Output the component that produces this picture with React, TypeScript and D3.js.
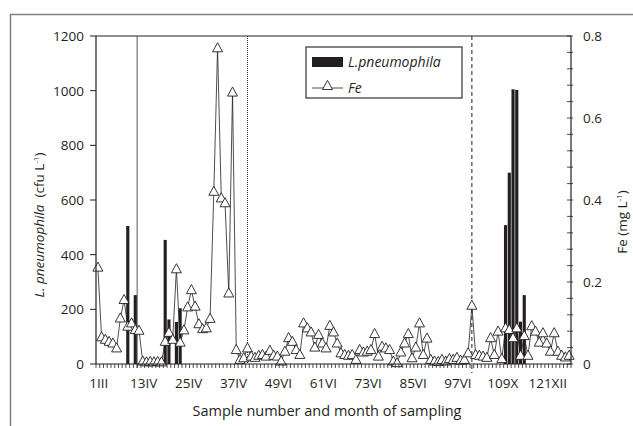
import { useRef, useEffect } from "react";
import { select, scaleLinear, line, range } from "d3";

// samples 1..127, Fe in mg/L
const sampleCount = 127;
const feValues = [
  0.235, 0.065, 0.059, 0.054, 0.05, 0.038, 0.111, 0.156, 0.091, 0.099,
  0.083, 0.081, 0.006, 0.004, 0.005, 0.004, 0.005, 0.004, 0.054, 0.076,
  0.059, 0.231, 0.052, 0.082, 0.138, 0.18, 0.14, 0.097, 0.085, 0.087,
  0.11, 0.42, 0.77, 0.404, 0.392, 0.172, 0.662, 0.034, 0.01, 0.014,
  0.038, 0.018, 0.015, 0.02, 0.022, 0.018, 0.032, 0.02, 0.018, 0.006,
  0.03, 0.063, 0.054, 0.034, 0.022, 0.099, 0.087, 0.077, 0.04, 0.071,
  0.05, 0.038, 0.093, 0.077, 0.05, 0.026, 0.022, 0.02, 0.022, 0.01,
  0.034, 0.028, 0.03, 0.034, 0.073, 0.018, 0.042, 0.038, 0.034, 0.006,
  0.002, 0.028, 0.05, 0.073, 0.014, 0.04, 0.099, 0.022, 0.062, 0.01,
  0.006, 0.005, 0.01, 0.006, 0.012, 0.01, 0.015, 0.008, 0.01, 0.026,
  0.142, 0.022, 0.02, 0.018, 0.015, 0.063, 0.022, 0.079, 0.012, 0.087,
  0.083, 0.063, 0.087, 0.02, 0.068, 0.02, 0.092, 0.079, 0.052, 0.075,
  0.05, 0.03, 0.075, 0.03, 0.02, 0.016, 0.02,
];

// L. pneumophila counts (cfu/L), only samples with a bar
const barSamples = [9, 11, 19, 20, 22, 23, 110, 111, 112, 113, 114, 115];
const barCounts = [505, 252, 454, 163, 154, 204, 508, 700, 1005, 1003, 155, 252];

const leftTicks = [0, 200, 400, 600, 800, 1000, 1200];
const rightTicks = [0, 0.2, 0.4, 0.6, 0.8];
const labelSamples = [1, 13, 25, 37, 49, 61, 73, 85, 97, 109, 121];
const monthLabels = ["1III", "13IV", "25IV", "37IV", "49VI", "61VI", "73VI", "85VI", "97VI", "109X", "121XII"];
const dividerSamples = [11.5, 41, 101];

const App = () => {
  const svgRef = useRef(null);

  useEffect(() => {
    const margin = { left: 96, right: 62, top: 36, bottom: 62 };
    const width = 633;
    const height = 426;
    const x0 = margin.left;
    const x1 = width - margin.right;
    const y0 = height - margin.bottom;
    const y1 = margin.top;
    const font = "'Open Sans', sans-serif";
    const ink = "#231f20";

    const x = scaleLinear().domain([0.5, sampleCount + 0.5]).range([x0, x1]);
    const yLeft = scaleLinear().domain([0, 1200]).range([y0, y1]);
    const yRight = scaleLinear().domain([0, 0.8]).range([y0, y1]);
    const step = x(2) - x(1);

    const svg = select(svgRef.current);
    svg.selectAll("*").remove();

    // outer frame
    svg
      .append("rect")
      .attr("x", 10.5)
      .attr("y", 14.5)
      .attr("width", 700)
      .attr("height", 500)
      .attr("fill", "none")
      .attr("stroke", "#808080")
      .attr("stroke-width", 1.5);

    // plot box top line
    svg
      .append("line")
      .attr("x1", x0)
      .attr("x2", x1)
      .attr("y1", y1)
      .attr("y2", y1)
      .attr("stroke", ink)
      .attr("stroke-width", 1);

    // dividers
    const dividerStyles = [
      { dash: null, bottom: y0 + 4, color: "#555" },
      { dash: "1,1", bottom: y0, color: "#333" },
      { dash: "4,3", bottom: y0 + 9, color: ink },
    ];
    dividerSamples.forEach((s, i) => {
      const st = dividerStyles[i];
      const ln = svg
        .append("line")
        .attr("x1", x(s))
        .attr("x2", x(s))
        .attr("y1", y1)
        .attr("y2", st.bottom)
        .attr("stroke", st.color)
        .attr("stroke-width", 1);
      if (st.dash) ln.attr("stroke-dasharray", st.dash);
    });

    // bars
    svg
      .append("g")
      .selectAll("rect")
      .data(barSamples)
      .join("rect")
      .attr("x", (d) => x(d) - (step - 0.6) / 2)
      .attr("width", step - 0.6)
      .attr("y", (d, i) => yLeft(barCounts[i]))
      .attr("height", (d, i) => y0 - yLeft(barCounts[i]))
      .attr("fill", ink);

    // Fe line
    const feLine = line<number>()
      .x((d, i) => x(i + 1))
      .y((d) => yRight(d));
    svg
      .append("path")
      .datum(feValues)
      .attr("d", feLine)
      .attr("fill", "none")
      .attr("stroke", ink)
      .attr("stroke-width", 0.8);

    const tri = "M0,-5.6L5,3.5L-5,3.5Z";
    svg
      .append("g")
      .selectAll("path")
      .data(feValues)
      .join("path")
      .attr("d", tri)
      .attr("transform", (d, i) => `translate(${x(i + 1)},${yRight(d)})`)
      .attr("fill", "#fff")
      .attr("stroke", ink)
      .attr("stroke-width", 0.9);

    // x axis
    const xAxis = svg.append("g");
    xAxis
      .append("line")
      .attr("x1", x0)
      .attr("x2", x1)
      .attr("y1", y0)
      .attr("y2", y0)
      .attr("stroke", ink)
      .attr("stroke-width", 1.2);
    xAxis
      .selectAll("line.tick")
      .data(range(0, sampleCount + 1))
      .join("line")
      .attr("class", "tick")
      .attr("x1", (d) => x(d + 0.5))
      .attr("x2", (d) => x(d + 0.5))
      .attr("y1", y0)
      .attr("y2", y0 + 4)
      .attr("stroke", ink)
      .attr("stroke-width", 0.8);
    xAxis
      .selectAll("text")
      .data(labelSamples)
      .join("text")
      .attr("x", (d) => x(d) + 1)
      .attr("y", y0 + 24)
      .attr("text-anchor", "middle")
      .attr("font-family", font)
      .attr("font-size", 13.5)
      .attr("fill", ink)
      .text((d, i) => monthLabels[i]);

    // left axis
    const leftAxis = svg.append("g");
    leftAxis
      .append("line")
      .attr("x1", x0)
      .attr("x2", x0)
      .attr("y1", y1)
      .attr("y2", y0)
      .attr("stroke", ink)
      .attr("stroke-width", 1.2);
    leftAxis
      .selectAll("line.tick")
      .data(leftTicks)
      .join("line")
      .attr("class", "tick")
      .attr("x1", x0 - 6)
      .attr("x2", x0)
      .attr("y1", (d) => yLeft(d))
      .attr("y2", (d) => yLeft(d))
      .attr("stroke", ink);
    leftAxis
      .selectAll("text")
      .data(leftTicks)
      .join("text")
      .attr("x", x0 - 12)
      .attr("y", (d) => yLeft(d) + 5)
      .attr("text-anchor", "end")
      .attr("font-family", font)
      .attr("font-size", 13.5)
      .attr("fill", ink)
      .text((d) => d);

    // right axis
    const rightAxis = svg.append("g");
    rightAxis
      .append("line")
      .attr("x1", x1)
      .attr("x2", x1)
      .attr("y1", y1)
      .attr("y2", y0)
      .attr("stroke", ink)
      .attr("stroke-width", 1.2);
    rightAxis
      .selectAll("line.tick")
      .data(range(0, 21))
      .join("line")
      .attr("class", "tick")
      .attr("x1", x1 - 4)
      .attr("x2", x1 + 2)
      .attr("y1", (d) => yRight(d * 0.04))
      .attr("y2", (d) => yRight(d * 0.04))
      .attr("stroke", ink)
      .attr("stroke-width", 0.8);
    rightAxis
      .selectAll("text")
      .data(rightTicks)
      .join("text")
      .attr("x", x1 + 12)
      .attr("y", (d) => yRight(d) + 5)
      .attr("font-family", font)
      .attr("font-size", 13.5)
      .attr("fill", ink)
      .text((d) => d);

    // axis titles
    svg
      .append("text")
      .attr("x", 327)
      .attr("y", 416)
      .attr("text-anchor", "middle")
      .attr("font-family", font)
      .attr("font-size", 14.5)
      .attr("fill", ink)
      .text("Sample number and month of sampling");

    const leftTitle = svg
      .append("text")
      .attr("transform", "translate(44,225) rotate(-90)")
      .attr("text-anchor", "middle")
      .attr("font-family", font)
      .attr("font-size", 13.5)
      .attr("fill", ink);
    leftTitle.append("tspan").attr("font-style", "italic").text("L. pneumophila");
    leftTitle.append("tspan").text("\u00a0 (cfu L");
    leftTitle.append("tspan").attr("dy", -5).attr("font-size", 8).text("-1");
    leftTitle.append("tspan").attr("dy", 5).text(")");

    const rightTitle = svg
      .append("text")
      .attr("transform", "translate(627,222) rotate(-90)")
      .attr("text-anchor", "middle")
      .attr("font-family", font)
      .attr("font-size", 13.5)
      .attr("fill", ink);
    rightTitle.append("tspan").text("Fe (mg L");
    rightTitle.append("tspan").attr("dy", -5).attr("font-size", 8).text("-1");
    rightTitle.append("tspan").attr("dy", 5).text(")");

    // legend
    const legend = svg.append("g").attr("transform", "translate(306,47)");
    legend
      .append("rect")
      .attr("width", 156)
      .attr("height", 51)
      .attr("fill", "#fff")
      .attr("stroke", "#333")
      .attr("stroke-width", 1.2);
    legend
      .append("rect")
      .attr("x", 6)
      .attr("y", 10)
      .attr("width", 31)
      .attr("height", 10)
      .attr("fill", ink);
    legend
      .append("text")
      .attr("x", 42)
      .attr("y", 20)
      .attr("font-family", font)
      .attr("font-style", "italic")
      .attr("font-size", 14)
      .attr("fill", ink)
      .text("L.pneumophila");
    legend
      .append("line")
      .attr("x1", 6)
      .attr("x2", 37)
      .attr("y1", 41)
      .attr("y2", 41)
      .attr("stroke", ink)
      .attr("stroke-width", 0.8);
    legend
      .append("path")
      .attr("d", tri)
      .attr("transform", "translate(21.5,39)")
      .attr("fill", "#fff")
      .attr("stroke", ink)
      .attr("stroke-width", 0.9);
    legend
      .append("text")
      .attr("x", 42)
      .attr("y", 46)
      .attr("font-family", font)
      .attr("font-style", "italic")
      .attr("font-size", 14)
      .attr("fill", ink)
      .text("Fe");
  }, []);

  return (
    <svg
      ref={svgRef}
      width={633}
      height={426}
      style={{ position: "absolute", left: 0, top: 0, background: "#fff" }}
    ></svg>
  );
};

export default App;
